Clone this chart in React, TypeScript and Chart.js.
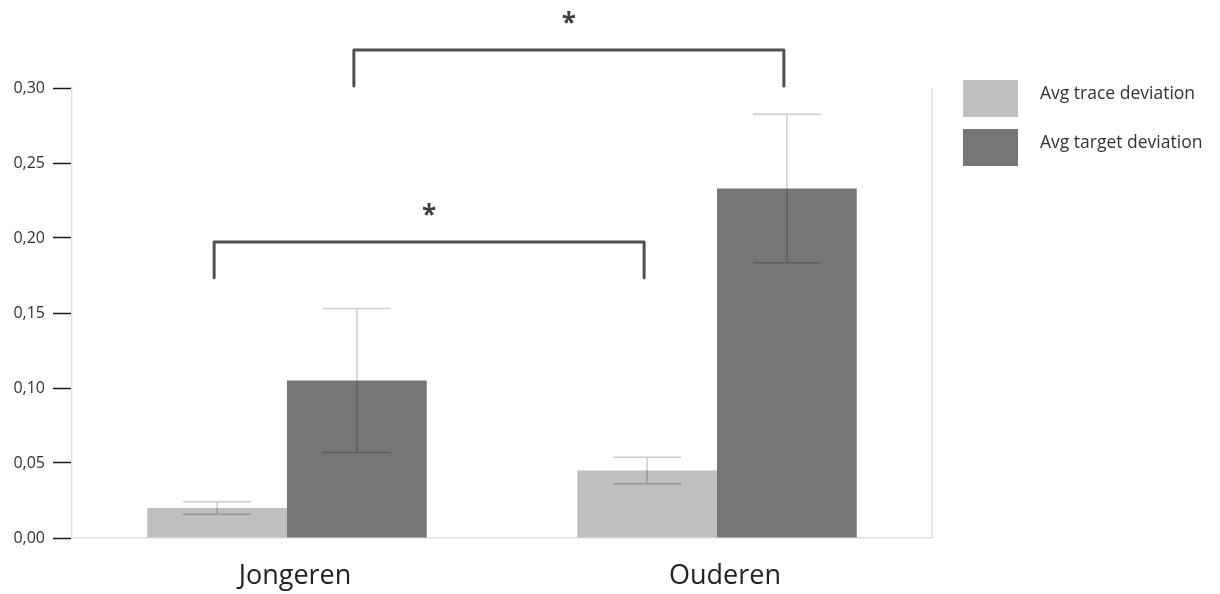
import React, { useEffect, useRef } from "react";
import { Chart, registerables } from "chart.js";

Chart.register(...registerables);

const categories = ["Jongeren", "Ouderen"];
const seriesNames = ["Avg trace deviation", "Avg target deviation"];
const traceValues = [0.02, 0.045];
const targetValues = [0.105, 0.233];
const traceErrors = [0.0042, 0.0089];
const targetErrors = [0.048, 0.0495];
const yTicks = [0, 0.05, 0.1, 0.15, 0.2, 0.25, 0.3];
// brackets: from/to = [dataset index, category index]
const brackets = [
  { from: [0, 0], to: [0, 1], level: 0.1973, legEnd: 0.1735, star: 0.218 },
  { from: [1, 0], to: [1, 1], level: 0.3253, legEnd: 0.3013, star: 0.346 },
];

const FONT = "'Open Sans', 'Noto Sans', sans-serif";
const COLORS = ["#bfbfbf", "#767676"];

const errorBarPlugin = {
  id: "errorBars",
  afterDatasetsDraw(chart: any) {
    const ctx = chart.ctx;
    const y = chart.scales.y;
    const errs = [traceErrors, targetErrors];
    const vals = [traceValues, targetValues];
    ctx.save();
    ctx.strokeStyle = "rgba(0,0,0,0.2)";
    ctx.lineWidth = 1.5;
    chart.data.datasets.forEach((_: any, di: number) => {
      const meta = chart.getDatasetMeta(di);
      meta.data.forEach((bar: any, i: number) => {
        const cx = bar.x;
        const top = y.getPixelForValue(vals[di][i] + errs[di][i]);
        const bot = y.getPixelForValue(vals[di][i] - errs[di][i]);
        const half = 34;
        ctx.beginPath();
        ctx.moveTo(cx, top);
        ctx.lineTo(cx, bot);
        ctx.moveTo(cx - half, top);
        ctx.lineTo(cx + half, top);
        ctx.moveTo(cx - half, bot);
        ctx.lineTo(cx + half, bot);
        ctx.stroke();
      });
    });
    ctx.restore();
  },
};

const decorPlugin = {
  id: "decor",
  afterDraw(chart: any) {
    const ctx = chart.ctx;
    const y = chart.scales.y;
    const area = chart.chartArea;
    ctx.save();
    // right border
    ctx.strokeStyle = "#e0e0e0";
    ctx.lineWidth = 1.5;
    ctx.beginPath();
    ctx.moveTo(area.right, area.top);
    ctx.lineTo(area.right, area.bottom);
    ctx.stroke();
    // brackets
    brackets.forEach((b) => {
      const xa = chart.getDatasetMeta(b.from[0]).data[b.from[1]].x;
      const xb = chart.getDatasetMeta(b.to[0]).data[b.to[1]].x;
      const yl = y.getPixelForValue(b.level);
      const ye = y.getPixelForValue(b.legEnd);
      ctx.strokeStyle = "#505050";
      ctx.lineWidth = 3;
      ctx.lineJoin = "round";
      ctx.lineCap = "round";
      ctx.beginPath();
      ctx.moveTo(xa - 3, ye);
      ctx.lineTo(xa - 3, yl);
      ctx.lineTo(xb - 3, yl);
      ctx.lineTo(xb - 3, ye);
      ctx.stroke();
      ctx.fillStyle = "#404040";
      ctx.font = `bold 26px ${FONT}`;
      ctx.textAlign = "center";
      ctx.textBaseline = "middle";
      ctx.fillText("*", (xa + xb) / 2 - 3, y.getPixelForValue(b.star) + 6);
    });
    // legend
    const lx = area.right + 31;
    seriesNames.forEach((name, i) => {
      const top = area.top - 8 + i * 49;
      ctx.fillStyle = COLORS[i];
      ctx.fillRect(lx, top, 55, 37);
      ctx.fillStyle = "#333333";
      ctx.font = `17.5px ${FONT}`;
      ctx.textAlign = "left";
      ctx.textBaseline = "middle";
      ctx.fillText(name, lx + 77, top + 14);
    });
    ctx.restore();
  },
};

export default function App() {
  const ref = useRef<HTMLCanvasElement>(null);
  useEffect(() => {
    if (!ref.current) return;
    const chart = new Chart(ref.current, {
      type: "bar",
      data: {
        labels: categories,
        datasets: [
          { label: seriesNames[0], data: traceValues, backgroundColor: COLORS[0], categoryPercentage: 0.65, barPercentage: 1.0 },
          { label: seriesNames[1], data: targetValues, backgroundColor: COLORS[1], categoryPercentage: 0.65, barPercentage: 1.0 },
        ],
      },
      options: {
        responsive: false,
        animation: false,
        layout: { padding: { left: 0, top: 88, right: 288, bottom: 0 } },
        plugins: { legend: { display: false }, tooltip: { enabled: false } },
        scales: {
          x: {
            offset: true,
            grid: { display: false },
            border: { color: "#e0e0e0", width: 1.5 },
            ticks: {
              color: "#222222",
              font: { family: FONT, size: 27 },
              padding: 14,
              labelOffset: 8,
            },
            afterFit(scale: any) {
              scale.height = 56;
            },
          },
          y: {
            min: 0,
            max: 0.3,
            afterBuildTicks(scale: any) {
              scale.ticks = yTicks.map((v) => ({ value: v }));
            },
            grid: {
              drawOnChartArea: false,
              drawTicks: true,
              tickLength: 19,
              tickColor: "#1a1a1a",
              tickWidth: 1.5,
            },
            border: { color: "#e0e0e0", width: 1.5 },
            ticks: {
              color: "#333333",
              font: { family: FONT, size: 16 },
              padding: 8,
              callback: (v: any) => Number(v).toFixed(2).replace(".", ","),
            },
            afterFit(scale: any) {
              scale.width = 72;
            },
          },
        },
      } as any,
      plugins: [errorBarPlugin, decorPlugin],
    });
    return () => chart.destroy();
  }, []);
  return (
    <div style={{ position: "absolute", left: 0, top: 0, width: 1220, height: 594, background: "#fff" }}>
      <canvas ref={ref} width={1220} height={594} />
    </div>
  );
}
